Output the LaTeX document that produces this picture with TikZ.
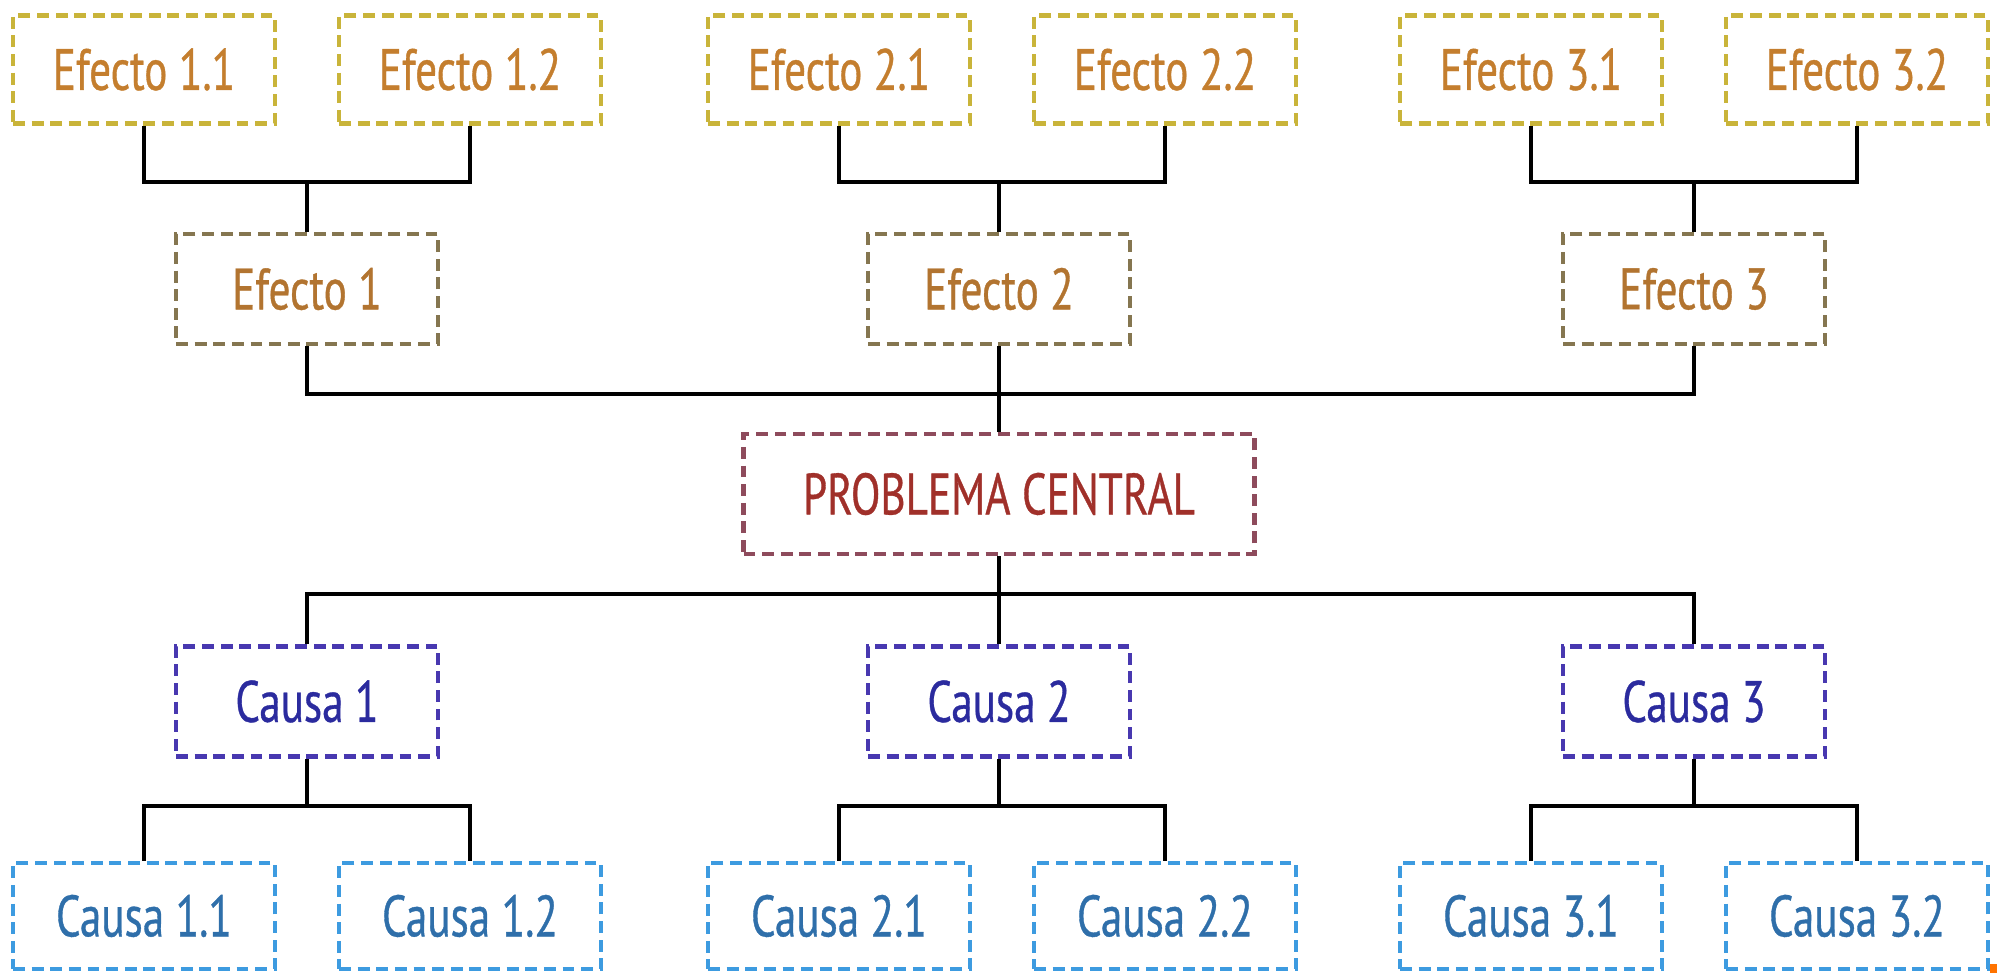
\documentclass[tikz,border=0pt]{standalone}
\usepackage{fontspec}
\setmainfont[FakeStretch=0.74,FakeBold=0.6]{PT Sans}
\usetikzlibrary{positioning}

\definecolor{subefT}{HTML}{C47E2E}
\definecolor{subefB}{HTML}{C9B43A}
\definecolor{efT}{HTML}{B27430}
\definecolor{efB}{HTML}{857650}
\definecolor{probT}{HTML}{A0302A}
\definecolor{probB}{HTML}{8E4B5C}
\definecolor{causaT}{HTML}{2B2B9E}
\definecolor{causaB}{HTML}{4838B0}
\definecolor{subcaT}{HTML}{2F6FAA}
\definecolor{subcaB}{HTML}{3D9BE0}

\begin{document}
\begin{tikzpicture}[x=1cm,y=1cm,
  box/.style={draw,dash pattern=on 3.4pt off 1.9pt,line width=1.2pt,
    minimum width=2.62cm,minimum height=1.08cm,inner sep=0pt,
    font=\fontsize{16.6}{18}\selectfont},
  subefecto/.style={box,draw=subefB,text=subefT},
  efecto/.style={box,draw=efB,text=efT,minimum height=1.1cm},
  problema/.style={box,draw=probB,text=probT,minimum width=5.11cm,minimum height=1.2cm},
  causa/.style={box,draw=causaB,text=causaT,minimum height=1.1cm},
  subcausa/.style={box,draw=subcaB,text=subcaT,minimum height=1.06cm},
  link/.style={line width=1.3pt}]

  \useasboundingbox (0,0) rectangle (19.97,9.73);

  % efectos
  \node[subefecto] (e11) at (1.44,9.035) {Efecto 1.1};
  \node[subefecto] (e12) at (4.70,9.035) {Efecto 1.2};
  \node[subefecto] (e21) at (8.39,9.035) {Efecto 2.1};
  \node[subefecto] (e22) at (11.65,9.035) {Efecto 2.2};
  \node[subefecto] (e31) at (15.31,9.035) {Efecto 3.1};
  \node[subefecto] (e32) at (18.57,9.035) {Efecto 3.2};

  \node[efecto] (e1) at (3.07,6.84) {Efecto 1};
  \node[efecto] (e2) at (9.99,6.84) {Efecto 2};
  \node[efecto] (e3) at (16.94,6.84) {Efecto 3};

  \node[problema] (pc) at (9.99,4.79) {PROBLEMA CENTRAL};

  % causas
  \node[causa] (c1) at (3.07,2.715) {Causa 1};
  \node[causa] (c2) at (9.99,2.715) {Causa 2};
  \node[causa] (c3) at (16.94,2.715) {Causa 3};

  \node[subcausa] (c11) at (1.44,0.57) {Causa 1.1};
  \node[subcausa] (c12) at (4.70,0.57) {Causa 1.2};
  \node[subcausa] (c21) at (8.39,0.57) {Causa 2.1};
  \node[subcausa] (c22) at (11.65,0.57) {Causa 2.2};
  \node[subcausa] (c31) at (15.31,0.57) {Causa 3.1};
  \node[subcausa] (c32) at (18.57,0.57) {Causa 3.2};

  % uniones
  \coordinate (j1) at (3.07,7.91);
  \coordinate (j2) at (9.99,7.91);
  \coordinate (j3) at (16.94,7.91);
  \coordinate (jm) at (9.99,5.79);
  \coordinate (jc) at (9.99,3.79);
  \coordinate (k1) at (3.07,1.67);
  \coordinate (k2) at (9.99,1.67);
  \coordinate (k3) at (16.94,1.67);

  \draw[link] (e11.south) |- (j1) -| (e12.south) (j1) -- (e1.north);
  \draw[link] (e21.south) |- (j2) -| (e22.south) (j2) -- (e2.north);
  \draw[link] (e31.south) |- (j3) -| (e32.south) (j3) -- (e3.north);
  \draw[link] (e1.south) |- (jm) -| (e3.south) (e2.south) -- (pc.north);
  \draw[link] (pc.south) -- (jc) (c1.north) |- (jc) -| (c3.north) (jc) -- (c2.north);
  \draw[link] (c11.north) |- (k1) -| (c12.north) (k1) -- (c1.south);
  \draw[link] (c21.north) |- (k2) -| (c22.north) (k2) -- (c2.south);
  \draw[link] (c31.north) |- (k3) -| (c32.north) (k3) -- (c3.south);

  \fill[orange!90!red] (19.90,0) rectangle (19.97,0.09);
\end{tikzpicture}
\end{document}
